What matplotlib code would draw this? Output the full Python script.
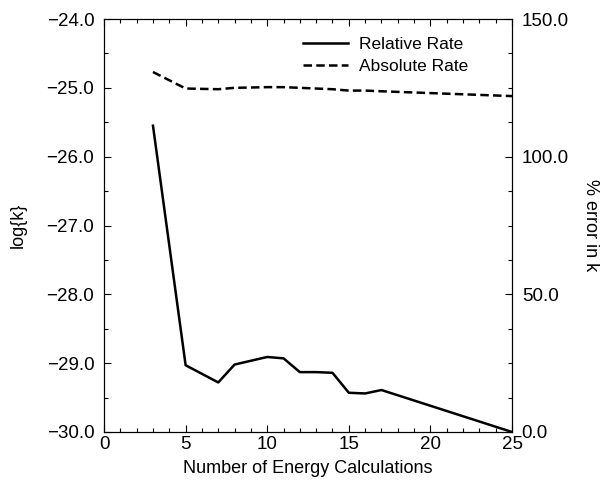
import numpy as np
import matplotlib.pyplot as plt
from matplotlib.ticker import MultipleLocator, FuncFormatter

plt.rcParams['font.family'] = ['Liberation Sans', 'DejaVu Sans']

# number of energy calculations
n_calc = [3, 5, 7, 8, 10, 11, 12, 13, 14, 15, 16, 17, 25]
# % error in k (relative rate)
rel_err = [111.25, 24.25, 18.0, 24.5, 27.25, 26.75, 21.75, 21.75, 21.5, 14.25, 14.0, 15.25, 0.0]
# log{k} (absolute rate)
abs_logk = [-24.77, -25.01, -25.02, -25.0, -24.99, -24.99, -25.0, -25.01, -25.02, -25.04, -25.04, -25.05, -25.12]


def fmt(v, pos):
    return ('%.1f' % v).replace('-', '\u2212')


fig = plt.figure(figsize=(6.02, 4.8), dpi=100)
ax = fig.add_axes([0.1728, 0.1, 0.6777, 0.8604])
ax2 = ax.twinx()

l2, = ax.plot(n_calc, abs_logk, 'k', lw=1.8, dashes=(3.4, 1.7))
l1, = ax2.plot(n_calc, rel_err, 'k-', lw=1.8)

ax.set_xlim(0, 25)
ax.set_ylim(-30, -24)
ax2.set_ylim(0, 150)

ax.xaxis.set_major_locator(MultipleLocator(5))
ax.xaxis.set_minor_locator(MultipleLocator(1))
ax.yaxis.set_major_locator(MultipleLocator(1))
ax.yaxis.set_minor_locator(MultipleLocator(0.5))
ax.yaxis.set_major_formatter(FuncFormatter(fmt))
ax2.yaxis.set_major_locator(MultipleLocator(50))
ax2.yaxis.set_minor_locator(MultipleLocator(12.5))
ax2.yaxis.set_major_formatter(FuncFormatter(fmt))

ax.tick_params(which='both', direction='in', top=True, labelsize=13.5, width=0.8, pad=7)
ax.tick_params(which='major', length=5)
ax.tick_params(which='minor', length=3)
ax.tick_params(axis='x', pad=3)
ax2.tick_params(which='both', direction='in', labelsize=13.5, width=0.8, pad=7)
ax2.tick_params(which='major', length=5)
ax2.tick_params(which='minor', length=3)

ax.set_xlabel('Number of Energy Calculations', fontsize=13, labelpad=5)
ax.set_ylabel('log{k}', fontsize=13, labelpad=14)
fig.text(591 / 602, 0.53, '% error in k', fontsize=13, rotation=270,
         ha='center', va='center')

ax2.legend([l1, l2], ['Relative Rate', 'Absolute Rate'], loc='upper right',
           bbox_to_anchor=(0.93, 0.995), frameon=False, fontsize=12.5,
           handlelength=2.6, handletextpad=0.6, labelspacing=0.4)

fig.savefig('out.png', dpi=100)
